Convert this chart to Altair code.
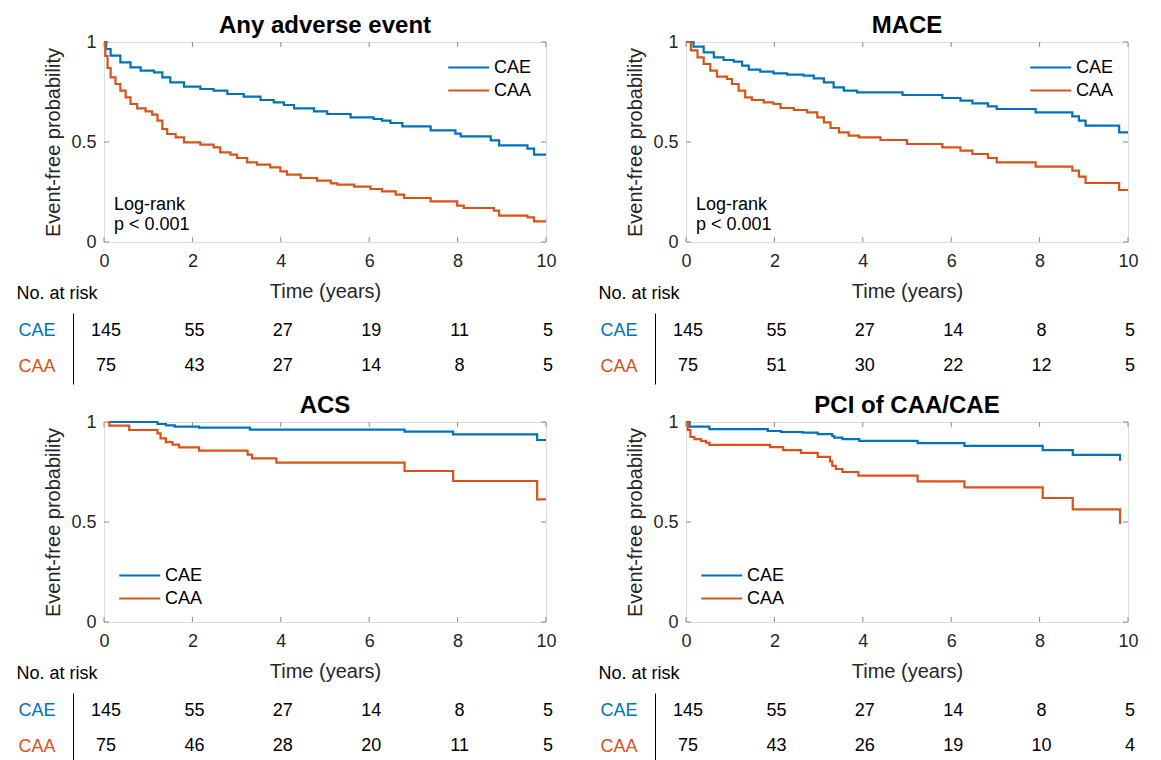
import altair as alt
import pandas as pd

BLUE = "#0072BD"
ORANGE = "#D95319"
FONT = "Liberation Sans"
FRAME = "#8a8a8a"
GROUPS = ["CAE", "CAA"]
X_TICKS = [0, 2, 4, 6, 8, 10]
Y_TICKS = [0, 0.5, 1]
RISK_TIMES = [0, 2, 4, 6, 8, 10]
W, H = 442, 200
TH = 71

# ---- Any adverse event ----
any_cae_t = [0, 0.05, 0.15, 0.37, 0.6, 0.83, 1.13, 1.32, 1.5, 1.81, 2.18, 2.48, 2.79, 3.16, 3.54, 3.84, 4.07, 4.3, 4.75, 5.05, 5.58, 6.1, 6.29, 6.48, 6.75, 7.39, 7.95, 8.07, 8.75, 8.94, 9.58, 9.73, 10]
any_cae_s = [1.0, 0.965, 0.932, 0.898, 0.873, 0.857, 0.848, 0.823, 0.798, 0.777, 0.765, 0.757, 0.74, 0.727, 0.71, 0.698, 0.685, 0.668, 0.653, 0.64, 0.623, 0.615, 0.607, 0.595, 0.578, 0.558, 0.542, 0.528, 0.508, 0.483, 0.467, 0.437, 0.437]
any_caa_t = [0, 0.03, 0.08, 0.15, 0.26, 0.37, 0.49, 0.6, 0.75, 0.94, 1.09, 1.21, 1.32, 1.43, 1.62, 1.81, 2.18, 2.48, 2.63, 2.86, 3.01, 3.24, 3.46, 3.76, 3.99, 4.14, 4.45, 4.82, 5.13, 5.28, 5.66, 6.03, 6.29, 6.6, 6.79, 7.39, 7.99, 8.14, 8.82, 8.94, 9.58, 9.73, 10]
any_caa_s = [1.0, 0.93, 0.87, 0.823, 0.79, 0.757, 0.723, 0.69, 0.668, 0.653, 0.637, 0.607, 0.565, 0.54, 0.523, 0.498, 0.487, 0.473, 0.448, 0.437, 0.42, 0.398, 0.387, 0.373, 0.353, 0.337, 0.32, 0.307, 0.293, 0.287, 0.277, 0.265, 0.253, 0.237, 0.22, 0.203, 0.182, 0.17, 0.157, 0.132, 0.123, 0.103, 0.103]
any_risk_cae = [145, 55, 27, 19, 11, 5]
any_risk_caa = [75, 43, 27, 14, 8, 5]

# ---- MACE ----
mace_cae_t = [0, 0.17, 0.4, 0.63, 0.85, 1.08, 1.27, 1.42, 1.68, 1.98, 2.29, 2.66, 2.89, 3.12, 3.34, 3.57, 3.87, 4.9, 5.8, 6.21, 6.48, 6.83, 7.03, 7.91, 8.74, 8.89, 9.04, 9.8, 10]
mace_cae_s = [1.0, 0.977, 0.948, 0.923, 0.91, 0.902, 0.882, 0.862, 0.852, 0.843, 0.837, 0.832, 0.818, 0.798, 0.773, 0.757, 0.748, 0.735, 0.72, 0.707, 0.693, 0.678, 0.665, 0.648, 0.628, 0.607, 0.582, 0.548, 0.548]
mace_caa_t = [0, 0.11, 0.26, 0.4, 0.55, 0.7, 0.93, 1.04, 1.19, 1.34, 1.49, 1.76, 1.98, 2.14, 2.44, 2.74, 2.97, 3.12, 3.27, 3.46, 3.68, 3.91, 4.4, 5.0, 5.8, 6.21, 6.48, 6.83, 7.03, 7.91, 8.74, 8.89, 9.04, 9.8, 10]
mace_caa_s = [1.0, 0.958, 0.923, 0.89, 0.857, 0.827, 0.815, 0.79, 0.757, 0.723, 0.71, 0.698, 0.69, 0.67, 0.66, 0.648, 0.623, 0.598, 0.57, 0.548, 0.532, 0.523, 0.51, 0.49, 0.473, 0.457, 0.44, 0.42, 0.398, 0.377, 0.357, 0.327, 0.295, 0.26, 0.26]
mace_risk_cae = [145, 55, 27, 14, 8, 5]
mace_risk_caa = [75, 51, 30, 22, 12, 5]

# ---- ACS ----
acs_cae_t = [0.1, 1.21, 1.4, 1.6, 2.15, 3.3, 6.8, 7.9, 9.8, 10]
acs_cae_s = [1.0, 0.99, 0.983, 0.977, 0.972, 0.962, 0.952, 0.938, 0.91, 0.91]
acs_caa_t = [0.1, 0.12, 0.57, 1.21, 1.28, 1.4, 1.55, 1.7, 2.15, 3.25, 3.35, 3.9, 6.8, 7.9, 9.8, 10]
acs_caa_s = [1.0, 0.982, 0.96, 0.943, 0.918, 0.899, 0.887, 0.873, 0.857, 0.837, 0.818, 0.797, 0.755, 0.705, 0.613, 0.613]
acs_risk_cae = [145, 55, 27, 14, 8, 5]
acs_risk_caa = [75, 46, 28, 20, 11, 5]

# ---- PCI of CAA/CAE ----
pci_cae_t = [0, 0.08, 0.53, 1.85, 2.15, 2.64, 2.98, 3.31, 3.35, 3.54, 3.92, 5.24, 6.3, 8.07, 8.75, 9.82]
pci_cae_s = [1.0, 0.977, 0.964, 0.955, 0.95, 0.947, 0.939, 0.93, 0.922, 0.914, 0.906, 0.894, 0.881, 0.859, 0.836, 0.806]
pci_caa_t = [0, 0.04, 0.1, 0.19, 0.34, 0.45, 0.53, 1.9, 2.2, 2.6, 2.98, 3.26, 3.31, 3.39, 3.54, 3.9, 5.24, 6.3, 8.07, 8.75, 9.82]
pci_caa_s = [1.0, 0.96, 0.925, 0.914, 0.906, 0.897, 0.886, 0.874, 0.859, 0.846, 0.826, 0.803, 0.781, 0.765, 0.75, 0.732, 0.703, 0.673, 0.62, 0.563, 0.49]
pci_risk_cae = [145, 55, 27, 14, 8, 5]
pci_risk_caa = [75, 43, 26, 19, 10, 4]

LOGRANK = "Log-rank\np < 0.001"


def indep(c):
    return c.resolve_scale(color="independent").resolve_legend(color="independent")


def panel(title, cae_t, cae_s, caa_t, caa_s, risk_cae, risk_caa, legend_orient, logrank):
    df = pd.DataFrame(
        [{"grp": "CAE", "t": a, "s": b} for a, b in zip(cae_t, cae_s)]
        + [{"grp": "CAA", "t": a, "s": b} for a, b in zip(caa_t, caa_s)]
    )
    x = alt.X("t:Q", scale=alt.Scale(domain=[0, 10], nice=False, zero=False),
              axis=alt.Axis(values=X_TICKS, title=None, ticks=False, domain=False, grid=False,
                            labelFontSize=18, labelPadding=10, labelColor="#262626", labelFont=FONT,
                            labelFlush=False))
    y = alt.Y("s:Q", scale=alt.Scale(domain=[0, 1], nice=False),
              axis=alt.Axis(values=Y_TICKS, format="~g", title="Event-free probability", ticks=False,
                            domain=False, grid=False, labelFontSize=18, labelPadding=8,
                            labelColor="#262626", labelFont=FONT, titleFont=FONT, titleFontSize=20,
                            titleFontWeight="normal", titleColor="#262626", titlePadding=7,
                            labelFlush=False))
    leg = alt.Legend(title=None, orient=legend_orient, offset=14, symbolType="M-1,0H3",
                     symbolSize=420, symbolStrokeWidth=2.2, labelFontSize=18, labelFont=FONT,
                     labelColor="#000000", padding=0, labelOffset=24, rowPadding=2)
    lines = alt.Chart(df).mark_line(interpolate="step-after", strokeWidth=2.2).encode(
        x=x, y=y,
        color=alt.Color("grp:N", scale=alt.Scale(domain=GROUPS, range=[BLUE, ORANGE]), legend=leg),
    )
    xt = pd.DataFrame({"t": X_TICKS})
    yt = pd.DataFrame({"s": Y_TICKS})
    tb = alt.Chart(xt).mark_rule(color=FRAME, strokeWidth=1).encode(x=x, y=alt.value(H), y2=alt.value(H - 5))
    tt = alt.Chart(xt).mark_rule(color=FRAME, strokeWidth=1).encode(x=x, y=alt.value(0), y2=alt.value(5))
    tl = alt.Chart(yt).mark_rule(color=FRAME, strokeWidth=1).encode(y=y, x=alt.value(0), x2=alt.value(5))
    tr = alt.Chart(yt).mark_rule(color=FRAME, strokeWidth=1).encode(y=y, x=alt.value(W - 5), x2=alt.value(W))
    layers = [tb, tt, tl, tr, lines]
    if logrank:
        ann = alt.Chart(pd.DataFrame({"label": [LOGRANK]})).mark_text(
            align="left", baseline="top", lineBreak="\n", fontSize=18, lineHeight=20, font=FONT,
            color="#000000").encode(x=alt.value(10), y=alt.value(H - 46), text="label:N")
        layers.append(ann)
    km = alt.layer(*layers).properties(
        width=W, height=H,
        title=alt.TitleParams(title, fontSize=24, font=FONT, fontWeight="bold", anchor="middle",
                              offset=-5, color="#000000"),
    )

    tdf = pd.DataFrame(
        [{"grp": "CAE", "t": a, "n": n} for a, n in zip(RISK_TIMES, risk_cae)]
        + [{"grp": "CAA", "t": a, "n": n} for a, n in zip(RISK_TIMES, risk_caa)]
    )
    table = alt.Chart(tdf).mark_text(fontSize=18, font=FONT, color="#000000", dx=2).encode(
        x=alt.X("t:Q", scale=alt.Scale(domain=[0, 10], nice=False, zero=False),
                axis=alt.Axis(orient="top", title="Time (years)", labels=False, ticks=False,
                              domain=False, grid=False, titleFontSize=20, titleFont=FONT,
                              titleFontWeight="normal", titleColor="#262626", titlePadding=12)),
        y=alt.Y("grp:N", scale=alt.Scale(domain=GROUPS, paddingInner=0, paddingOuter=0),
                axis=alt.Axis(title="No. at risk", titleAngle=0, titleAlign="left",
                              titleBaseline="middle", titleX=-57, titleY=-20, titleFontSize=18,
                              titleFont=FONT, titleFontWeight="normal", titleColor="#000000",
                              labelColor={"condition": {"test": "datum.value === 'CAE'", "value": BLUE},
                                          "value": ORANGE},
                              labelFontSize=18, labelFont=FONT, ticks=False, domainColor="#000000",
                              domainWidth=1, offset=31, labelPadding=18, grid=False)),
        text="n:Q",
    ).properties(width=W, height=TH, view=alt.ViewBackground(stroke="transparent"))
    return indep(alt.vconcat(km, table, spacing=9))


tl_p = panel("Any adverse event", any_cae_t, any_cae_s, any_caa_t, any_caa_s,
             any_risk_cae, any_risk_caa, "top-right", True)
tr_p = panel("MACE", mace_cae_t, mace_cae_s, mace_caa_t, mace_caa_s,
             mace_risk_cae, mace_risk_caa, "top-right", True)
bl_p = panel("ACS", acs_cae_t, acs_cae_s, acs_caa_t, acs_caa_s,
             acs_risk_cae, acs_risk_caa, "bottom-left", False)
br_p = panel("PCI of CAA/CAE", pci_cae_t, pci_cae_s, pci_caa_t, pci_caa_s,
             pci_risk_cae, pci_risk_caa, "bottom-left", False)

chart = indep(alt.vconcat(
    indep(alt.hconcat(tl_p, tr_p, spacing=40)),
    indep(alt.hconcat(bl_p, br_p, spacing=40)),
    spacing=8,
)).properties(padding={"left": 15, "top": 13, "right": 0, "bottom": 0}).configure_view(
    stroke=FRAME, strokeWidth=1
).configure(font=FONT, background="white")

chart.save("out.html", embed_options={"renderer": "svg", "actions": False})
